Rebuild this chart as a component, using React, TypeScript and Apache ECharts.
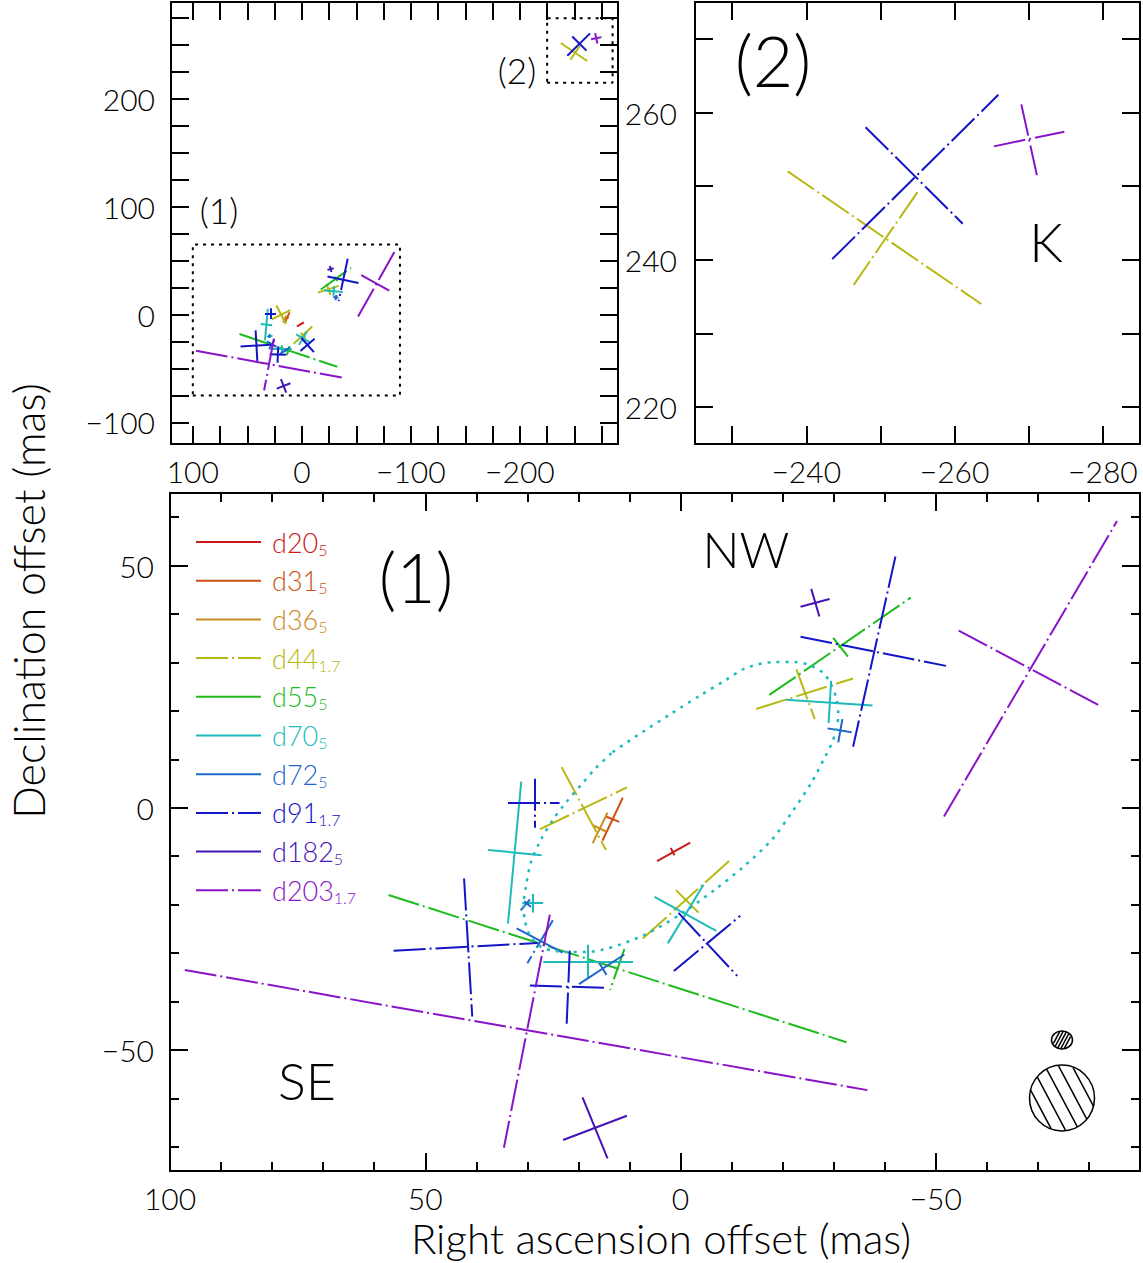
import React, { useEffect, useRef } from 'react';
import * as echarts from 'echarts';

const FONT = "Lato, 'DejaVu Sans', sans-serif";
const W = 1143;
const H = 1263;

// ---- epochs (legend) ----
const epochNames = ['d20', 'd31', 'd36', 'd44', 'd55', 'd70', 'd72', 'd91', 'd182', 'd203'];
const epochBands = ['5', '5', '5', '1.7', '5', '5', '5', '1.7', '5', '1.7'];
const epochColors = ['#cc1a1a', '#cc5214', '#c98a1e', '#b8b814', '#1fbb1f', '#1fbbbb', '#1f66cc', '#1414c8', '#4414b4', '#8814c8'];
const legendDashDot = [false, false, false, true, false, false, false, true, false, true];

// ---- components: [RA1, Dec1, RA2, Dec2, style(0 solid, 1 dash-dot)] in mas ----
type Seg = [number, number, number, number, number];
const d20: Seg[] = [[4.6, -11.0, -1.9, -7.2, 0], [1.9, -8.3, 1.2, -9.8, 0]];
const d31: Seg[] = [[11.3, 2.1, 15.3, -6.8, 0], [14.6, -1.8, 12.0, -2.9, 0]];
const d36: Seg[] = [[14.3, -1.0, 17.2, -7.3, 0], [17.2, -3.6, 14.6, -4.9, 0]];
const d44: Seg[] = [
  [23.3, 8.4, 14.6, -8.7, 1], [27.5, -4.4, 10.5, 4.2, 1],
  [7.4, -27.0, -9.5, -11.0, 1], [0.9, -17.0, -3.6, -21.7, 1],
  [-14.8, 20.4, -33.8, 26.7, 1], [-22.7, 28.6, -26.3, 18.3, 1],
  [-237.5, 252.0, -263.6, 234.0, 1], [-255.0, 249.2, -246.4, 236.6, 1],
];
const d55: Seg[] = [
  [57.2, -18.0, -32.5, -48.4, 1], [11.0, -29.2, 13.8, -37.6, 1],
  [-17.4, 23.3, -45.1, 43.4, 1], [-29.9, 35.1, -32.8, 31.2, 1],
];
const d70: Seg[] = [
  [31.2, 5.4, 33.8, -23.9, 0], [37.7, -8.7, 27.2, -9.8, 0],
  [31.0, -19.6, 26.9, -19.6, 0], [29.0, -17.8, 29.0, -21.6, 0],
  [26.9, -31.8, 9.3, -31.8, 0], [18.1, -28.3, 18.1, -35.2, 0],
  [5.1, -18.4, -7.0, -25.4, 0], [2.5, -28.0, -4.5, -15.9, 0],
  [-20.7, 22.3, -37.6, 21.1, 0], [-29.5, 26.2, -29.0, 17.5, 0],
];
const d72: Seg[] = [
  [32.1, -24.9, 23.1, -29.9, 0], [25.0, -23.2, 30.0, -32.1, 1],
  [31.3, -21.2, 29.5, -18.9, 0], [30.6, -19.3, 29.3, -20.5, 0],
  [19.9, -36.4, 11.0, -30.3, 0], [15.9, -32.1, 14.5, -34.5, 0],
  [-28.8, 16.4, -33.5, 15.6, 1], [-31.7, 18.3, -30.9, 13.5, 1],
];
const d91: Seg[] = [
  [33.8, 1.1, 23.7, 1.1, 1], [28.6, 6.0, 28.6, -4.1, 1],
  [42.4, -14.6, 40.8, -43.1, 1], [56.2, -29.5, 28.0, -27.9, 1],
  [29.5, -36.7, 14.4, -37.2, 1], [21.7, -29.5, 22.3, -44.6, 1],
  [0.4, -21.7, -11.1, -34.7, 1], [1.3, -33.7, -11.7, -22.3, 1],
  [-42.1, 51.9, -33.8, 12.6, 1], [-23.5, 35.3, -52.0, 29.3, 1],
  [-243.5, 240.1, -265.9, 262.4, 1], [-248.0, 258.0, -261.1, 244.9, 1],
];
const d182: Seg[] = [
  [-23.5, 41.5, -29.2, 43.1, 0], [-25.6, 45.2, -27.2, 39.5, 0],
  [19.2, -59.8, 14.3, -72.4, 0], [23.0, -68.6, 10.5, -63.6, 0],
];
const d203: Seg[] = [
  [-51.6, -1.8, -85.5, 59.2, 1], [-54.5, 36.6, -82.4, 20.9, 1],
  [97.1, -33.5, -36.6, -58.3, 1], [25.6, -22.1, 34.6, -70.2, 1],
  [-265.3, 255.4, -274.8, 257.4, 1], [-269.0, 261.1, -271.1, 251.5, 1],
];
const epochSegments = [d20, d31, d36, d44, d55, d70, d72, d91, d182, d203];

// ---- dotted ring ----
const ringRA = [13.3, 7.8, 1.9, -4.0, -8.9, -12.9, -18.4, -22.3, -25.2, -28.0, -29.5, -30.5, -30.9, -30.5, -29.5, -28.2, -25.6, -21.7, -17.8, -12.3, -6.6, -0.1, 7.2, 15.6, 21.5, 26.8, 29.3, 30.5, 30.7, 30.3, 29.3, 27.4, 25.0, 22.5, 19.5, 16.6, 13.3];
const ringDec = [11.5, 15.4, 19.4, 23.3, 26.4, 28.9, 30.1, 30.1, 29.5, 27.8, 25.4, 22.7, 19.2, 16.1, 13.0, 10.3, 5.1, -1.1, -6.7, -12.2, -17.0, -21.9, -26.3, -29.4, -29.8, -29.0, -26.7, -23.2, -19.7, -16.4, -11.2, -6.7, -2.5, 1.0, 4.7, 8.2, 11.5];

// ---- axis ranges ----
const overviewRA = [120, -290];
const overviewDec = [-120, 290];
const zoom1RA = [100, -90];
const zoom1Dec = [-75, 65];
const zoom2RA = [-225, -285];
const zoom2Dec = [215, 275];

const DASHDOT = [32, 4, 2, 4];

const fmt = (step: number) => (v: number) => {
  if (Math.abs(v / step - Math.round(v / step)) > 1e-6) return '';
  return v < 0 ? '\u2212' + Math.abs(v) : String(v);
};

function mkAxis(dim: 'x' | 'y', grid: number, range: number[], step: number, labelStep: number, position: string, showLabel: boolean, tickLen: number, minor: boolean, margin: number) {
  return {
    type: 'value',
    gridIndex: grid,
    position,
    inverse: dim === 'x',
    min: Math.min(range[0], range[1]),
    max: Math.max(range[0], range[1]),
    minInterval: step,
    maxInterval: step,
    splitNumber: Math.round(Math.abs(range[1] - range[0]) / step),
    axisLine: { show: true, onZero: false, lineStyle: { color: '#000', width: 2 } },
    axisTick: { show: true, inside: true, length: tickLen, lineStyle: { color: '#000', width: 2 } },
    minorTick: minor ? { show: true, splitNumber: 5, length: 9, lineStyle: { color: '#000', width: 2 } } : { show: false },
    axisLabel: { show: showLabel, formatter: fmt(labelStep), margin, fontSize: 30, fontFamily: FONT, fontWeight: 300, color: '#000' },
    splitLine: { show: false },
    minorSplitLine: { show: false },
  };
}

function hatch(cx: number, cy: number, r: number, angleDeg: number, offsets: number[]) {
  const a = (angleDeg * Math.PI) / 180;
  const ux = Math.cos(a), uy = Math.sin(a);
  const nx = -uy, ny = ux;
  return offsets.map((d) => {
    const h = Math.sqrt(Math.max(r * r - d * d, 0));
    const px = cx + d * nx, py = cy + d * ny;
    return {
      type: 'line',
      shape: { x1: px - h * ux, y1: py - h * uy, x2: px + h * ux, y2: py + h * uy },
      style: { stroke: '#000', lineWidth: 1.5 },
    };
  });
}

function txt(text: string, x: number, y: number, size: number, rotation = 0) {
  return {
    type: 'text', x, y, rotation,
    style: { text, fontSize: size, fontFamily: FONT, fontWeight: 300, fill: '#000', align: 'center', verticalAlign: 'middle', textAlign: 'center', textVerticalAlign: 'middle' },
  };
}

export default function App() {
  const ref = useRef<HTMLDivElement>(null);
  useEffect(() => {
    if (!ref.current) return;
    const chart = echarts.init(ref.current, undefined, { renderer: 'svg' });

    const series: any[] = [];
    epochNames.forEach((name, i) => {
      const segs = epochSegments[i];
      const panels = [
        { xa: 0, ya: 0, segs },
        { xa: 2, ya: 2, segs: segs.filter((s) => s[0] < -200) },
        { xa: 4, ya: 4, segs: segs.filter((s) => s[0] >= -200) },
      ];
      panels.forEach((p) => {
        if (!p.segs.length) return;
        series.push({
          type: 'lines', name, coordinateSystem: 'cartesian2d', xAxisIndex: p.xa, yAxisIndex: p.ya,
          polyline: false, silent: true, clip: true,
          lineStyle: { color: epochColors[i], width: 2, opacity: 1, curveness: 0 },
          data: p.segs.map((s) => ({ coords: [[s[0], s[1]], [s[2], s[3]]], lineStyle: { type: s[4] ? DASHDOT : 'solid' } })),
        });
      });
    });
    series.push({
      type: 'line', xAxisIndex: 4, yAxisIndex: 4, silent: true, smooth: 0.3,
      symbol: 'none', showSymbol: false,
      data: ringRA.map((x, i) => [x, ringDec[i]]),
      lineStyle: { color: '#1fbbbb', width: 2.5, type: [3, 6] },
    });
    const box = (ra: number[], dec: number[]) => ({
      type: 'line', xAxisIndex: 0, yAxisIndex: 0, silent: true, symbol: 'none', showSymbol: false,
      data: [[ra[0], dec[0]], [ra[1], dec[0]], [ra[1], dec[1]], [ra[0], dec[1]], [ra[0], dec[0]]],
      lineStyle: { color: '#000', width: 2, type: [3, 5] },
    });
    series.push(box(zoom1RA, zoom1Dec));
    series.push(box(zoom2RA, zoom2Dec));

    const legendEls: any[] = [];
    epochNames.forEach((name, i) => {
      const y = 542 + i * 38.7;
      const c = epochColors[i];
      legendEls.push({
        type: 'line', shape: { x1: 196, y1: y, x2: 261, y2: y },
        style: { stroke: c, lineWidth: 2, lineDash: legendDashDot[i] ? DASHDOT : null },
      });
      legendEls.push({
        type: 'text', x: 272, y,
        style: {
          text: `{m|${name}}{s|${epochBands[i]}}`,
          verticalAlign: 'middle', textVerticalAlign: 'middle', align: 'left', textAlign: 'left',
          rich: {
            m: { fontSize: 27, fontFamily: FONT, fontWeight: 300, fill: c, lineHeight: 30 },
            s: { fontSize: 16, fontFamily: FONT, fontWeight: 300, fill: c, lineHeight: 16, verticalAlign: 'bottom' },
          },
        },
      });
    });

    const graphics: any[] = [
      ...legendEls,
      txt('(1)', 416, 576, 68),
      txt('NW', 746, 549, 49),
      txt('SE', 307, 1080, 52),
      txt('(2)', 773, 60, 70),
      txt('K', 1046, 241, 53),
      txt('(1)', 219, 210, 35),
      txt('(2)', 517, 70, 35),
      txt('Right ascension offset (mas)', 661, 1238, 42),
      txt('Declination offset (mas)', 28, 601, 43, Math.PI / 2),
      { type: 'ellipse', shape: { cx: 1062, cy: 1040, rx: 10.5, ry: 9 }, style: { fill: 'none', stroke: '#000', lineWidth: 1.5 } },
      ...hatch(1062, 1040, 9.2, -62, [-6, -3, 0, 3, 6]),
      { type: 'ellipse', shape: { cx: 1062, cy: 1098, rx: 32.5, ry: 33 }, style: { fill: 'none', stroke: '#000', lineWidth: 1.5 } },
      ...hatch(1062, 1098, 32.5, 62, [-24, -12, 0, 12, 24]),
    ];

    const option: any = {
      animation: false,
      backgroundColor: '#fff',
      grid: [
        { left: 171, top: 2, width: 447, height: 442, outerBoundsMode: 'none', containLabel: false },
        { left: 695, top: 2, width: 445, height: 442, outerBoundsMode: 'none', containLabel: false },
        { left: 170, top: 493, width: 970, height: 678, outerBoundsMode: 'none', containLabel: false },
      ],
      xAxis: [
        mkAxis('x', 0, overviewRA, 25, 100, 'bottom', true, 18, false, 12),
        mkAxis('x', 0, overviewRA, 25, 100, 'top', false, 18, false, 12),
        mkAxis('x', 1, zoom2RA, 10, 20, 'bottom', true, 18, false, 12),
        mkAxis('x', 1, zoom2RA, 10, 20, 'top', false, 18, false, 12),
        mkAxis('x', 2, zoom1RA, 50, 50, 'bottom', true, 18, true, 12),
        mkAxis('x', 2, zoom1RA, 50, 50, 'top', false, 18, true, 12),
      ],
      yAxis: [
        mkAxis('y', 0, overviewDec, 25, 100, 'left', true, 18, false, 16),
        mkAxis('y', 0, overviewDec, 25, 100, 'right', false, 18, false, 16),
        mkAxis('y', 1, zoom2Dec, 10, 20, 'left', true, 18, false, 18),
        mkAxis('y', 1, zoom2Dec, 10, 20, 'right', false, 18, false, 18),
        mkAxis('y', 2, zoom1Dec, 50, 50, 'left', true, 18, true, 16),
        mkAxis('y', 2, zoom1Dec, 50, 50, 'right', false, 18, true, 16),
      ],
      series,
      graphic: { elements: graphics },
    };
    chart.setOption(option);
    return () => chart.dispose();
  }, []);
  return <div ref={ref} style={{ position: 'fixed', left: 0, top: 0, width: W, height: H, background: '#fff' }} />;
}
